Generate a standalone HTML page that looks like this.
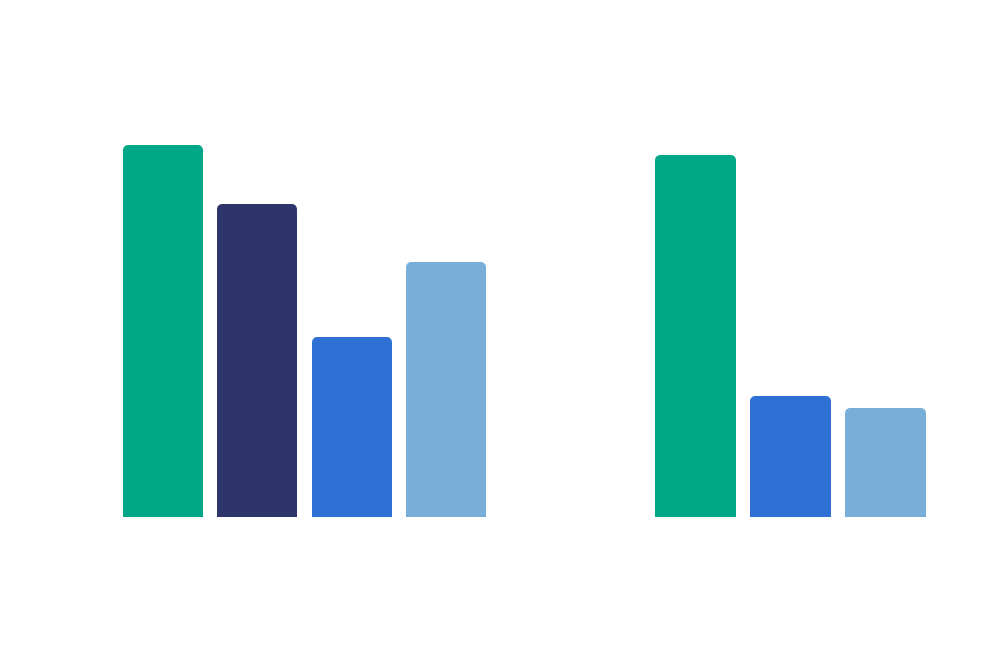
<!DOCTYPE html>
<html><head><style>
html,body{margin:0;padding:0;background:#fff;}
.c{position:relative;width:1000px;height:663px;overflow:hidden;background:#fff;}
.b{position:absolute;bottom:146px;border-radius:5px 5px 0 0;}
</style></head><body><div class="c">
<div class="b" style="left:123px;width:80px;top:145px;background:#00A887"></div>
<div class="b" style="left:217px;width:80px;top:204px;background:#2E356B"></div>
<div class="b" style="left:312px;width:80px;top:337px;background:#2F70D4"></div>
<div class="b" style="left:406px;width:80px;top:262px;background:#78AED7"></div>
<div class="b" style="left:655px;width:81px;top:155px;background:#00A887"></div>
<div class="b" style="left:750px;width:81px;top:396px;background:#2F70D4"></div>
<div class="b" style="left:845px;width:81px;top:408px;background:#78AED7"></div>
</div></body></html>
